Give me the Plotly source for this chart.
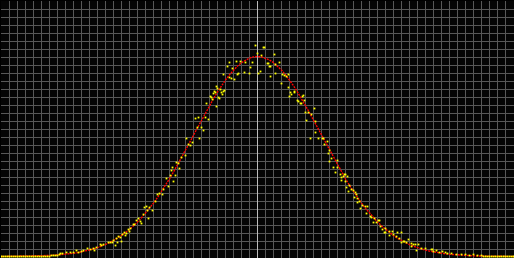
import plotly.graph_objects as go

# ---- data (bin offset from centre, counts) ----
curve_x = list(range(-256, 257, 4))
curve_y = [0.07, 0.09, 0.11, 0.14, 0.18, 0.22, 0.28, 0.35, 0.44, 0.54, 0.67, 0.83, 1.02, 1.24, 1.52, 1.84,
           2.22, 2.68, 3.21, 3.83, 4.56, 5.40, 6.38, 7.50, 8.79, 10.25, 11.91, 13.80, 15.91, 18.28, 20.92, 23.84,
           27.07, 30.61, 34.48, 38.70, 43.25, 48.16, 53.41, 59.00, 64.93, 71.17, 77.71, 84.52, 91.57, 98.82,
           106.22, 113.73, 121.31, 128.88, 136.39, 143.77, 150.97, 157.90, 164.51, 170.74, 176.50, 181.75,
           186.42, 190.47, 193.85, 196.52, 198.44, 199.61,
           200.0,
           199.61, 198.44, 196.52, 193.85, 190.47, 186.42, 181.75, 176.50, 170.74, 164.51, 157.90, 150.97,
           143.77, 136.39, 128.88, 121.31, 113.73, 106.22, 98.82, 91.57, 84.52, 77.71, 71.17, 64.93, 59.00,
           53.41, 48.16, 43.25, 38.70, 34.48, 30.61, 27.07, 23.84, 20.92, 18.28, 15.91, 13.80, 11.91, 10.25,
           8.79, 7.50, 6.38, 5.40, 4.56, 3.83, 3.21, 2.68, 2.22, 1.84, 1.52, 1.24, 1.02, 0.83, 0.67, 0.54,
           0.44, 0.35, 0.28, 0.22, 0.18, 0.14, 0.11, 0.09, 0.07]

sample_x = [-256, -254, -252, -250, -248, -246, -244, -242, -240, -238, -236, -234, -232, -230, -228,
            -226, -224, -222, -220, -218, -216, -214, -212, -210, -208, -206, -204, -202, -200, -198,
            -197, -195, -191, -187, -184, -181, -179, -176, -174, -170, -167, -164, -163, -161, -157,
            -156, -154, -149, -147, -145, -144, -142, -141, -140, -139, -137, -136, -135, -133, -132,
            -131, -129, -128, -127, -124, -123, -121, -119, -117, -116, -114, -113, -111, -110, -109,
            -108, -105, -102, -100, -98, -95, -94, -91, -89, -87, -86, -85, -84, -82, -81, -79, -78,
            -76, -72, -71, -69, -67, -65, -62, -60, -59, -58, -56, -54, -52, -51, -49, -47, -46, -45,
            -44, -43, -42, -41, -41, -40, -39, -38, -37, -36, -35, -34, -34, -33, -30, -28, -28, -26,
            -25, -23, -21, -20, -19, -17, -13, -12, -8, -7, -5, -2, 0, 1, 3, 4, 6, 7, 10, 11, 12, 13,
            13, 17, 18, 18, 22, 24, 25, 27, 29, 31, 31, 32, 33, 34, 37, 37, 40, 41, 43, 44, 45, 46, 47,
            48, 49, 51, 53, 54, 57, 58, 58, 61, 65, 66, 67, 70, 71, 72, 72, 74, 76, 78, 80, 80, 83, 84,
            84, 86, 87, 88, 88, 89, 90, 91, 92, 94, 96, 97, 98, 99, 100, 100, 102, 103, 105, 108, 109,
            110, 113, 114, 116, 117, 119, 121, 122, 123, 125, 127, 128, 128, 132, 132, 135, 136, 139,
            140, 142, 144, 144, 146, 147, 149, 151, 154, 154, 156, 158, 159, 161, 164, 168, 174, 175,
            176, 179, 182, 185, 188, 190, 194, 199, 204, 208, 212, 216, 220, 224, 226, 228, 230, 232,
            234, 236, 238, 240, 242, 244, 246, 248, 250, 252, 254, 256]
sample_y = [0, 0, 0, 0, 0, 0, 0, 0, 0, 0, 0, 0, 0, 0, 0,
            0, 0, 0, 0, 0, 0, 0, 0, 0, 0, 1, 1, 1, 1, 2,
            3, 3, 4, 4, 4, 6, 4, 5, 6, 8, 7, 8, 6, 9, 12,
            11, 12, 14, 14, 14, 16, 11, 18, 14, 20, 19, 15, 22, 24, 21,
            23, 27, 25, 28, 32, 32, 36, 38, 35, 33, 42, 49, 50, 46, 38,
            49, 46, 55, 62, 63, 62, 67, 78, 70, 81, 86, 89, 75, 81, 94, 93, 88,
            99, 101, 118, 112, 111, 114, 138, 129, 139, 118, 129, 126, 139, 153, 137, 160, 159, 157,
            163, 165, 164, 170, 150, 168, 159, 158, 167, 164, 162, 165, 182, 166, 190, 194, 179, 178,
            188, 177, 195, 182, 183, 195, 184, 194, 183, 189, 194, 211, 203, 183, 185, 201, 209, 209, 193, 193, 190, 190,
            180, 202, 192, 183, 194, 173, 182, 181, 180, 182, 169, 160, 164, 162, 164, 165, 156, 155, 153, 153, 160, 161, 156,
            144, 136, 144, 118, 142, 148, 124, 135, 118, 118, 118, 112, 115, 103, 106, 95, 98, 89, 84, 96, 89, 82, 79,
            76, 80, 82, 82, 75, 69, 80, 65, 71, 67, 66, 59, 64, 62, 58, 54, 55, 48, 51, 50, 43,
            50, 40, 39, 34, 38, 34, 36, 36, 30, 27, 24, 24, 28, 21, 25, 25, 22, 20,
            24, 18, 24, 14, 15, 15, 14, 17, 10, 13, 12, 12, 6, 12, 8, 8, 7, 7,
            5, 6, 4, 5, 4, 3, 3, 2, 2, 2, 1, 2, 1, 1, 0, 0, 0, 0,
            0, 0, 0, 0, 0, 0, 0, 0, 0, 0, 0, 0]

sigma_lines = [-192, -128, -64, 64, 128, 192]

fig = go.Figure()
fig.add_trace(go.Scatter(x=curve_x, y=curve_y, mode="lines",
                         line=dict(color="#ff0000", width=1.4, dash="2px,1px"), hoverinfo="skip"))
fig.add_trace(go.Scatter(x=sample_x, y=sample_y, mode="markers",
                         marker=dict(color="#ffff00", size=1.8, symbol="square", line=dict(width=0)),
                         hoverinfo="skip", cliponaxis=True))

for sx in sigma_lines:
    fig.add_shape(type="line", x0=sx, x1=sx, y0=0, y1=1, xref="x", yref="paper",
                  line=dict(color="#00c000", width=1), layer="between")

fig.update_layout(
    width=514, height=258,
    margin=dict(l=1, r=0, t=1, b=0),
    paper_bgcolor="#000000", plot_bgcolor="#050505",
    showlegend=False,
    xaxis=dict(range=[-256.5, 256.5], tick0=0, dtick=8, showgrid=True, gridcolor="#585858", gridwidth=1,
               zeroline=True, zerolinecolor="#bcbcbc", zerolinewidth=1,
               showticklabels=False, ticks="", showline=False, fixedrange=True),
    yaxis=dict(range=[-1.5, 255.5], tick0=-1, dtick=8, showgrid=True, gridcolor="#585858", gridwidth=1,
               zeroline=False, showticklabels=False, ticks="", showline=False, fixedrange=True),
)

fig.write_html("out.html", config={"displayModeBar": False})
